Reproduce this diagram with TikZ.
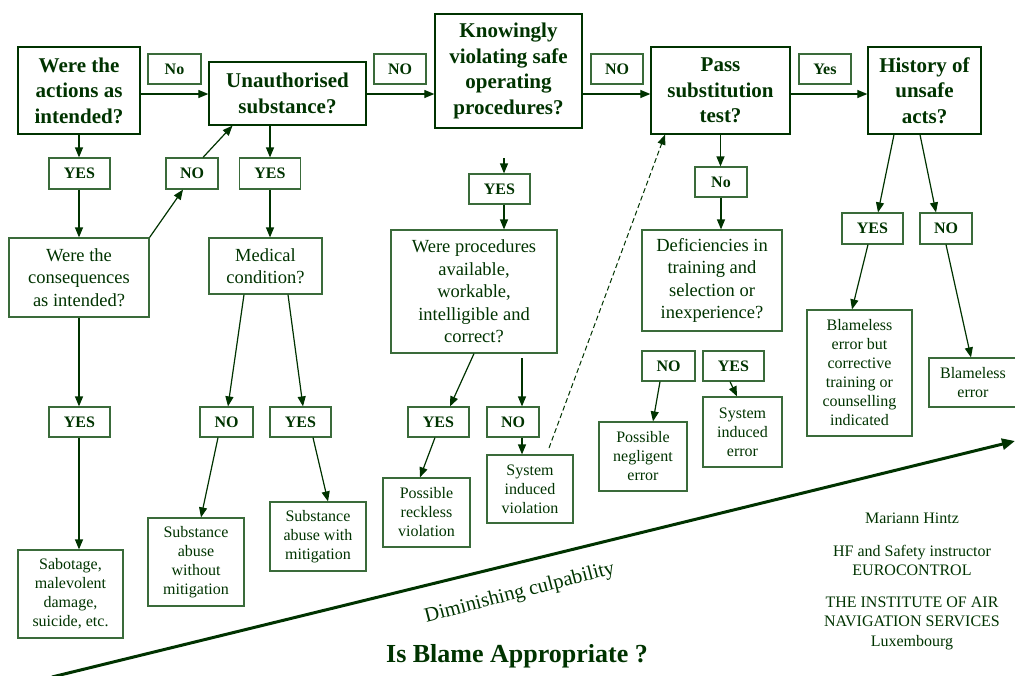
\documentclass[tikz,border=0pt]{standalone}
\usepackage{fontspec}
\setmainfont{Liberation Serif}
\usetikzlibrary{arrows.meta}
\definecolor{dgreen}{HTML}{003300}
\definecolor{mgreen}{HTML}{3A6B3A}
\tikzset{
  sz/.style n args={2}{minimum width=#1pt, minimum height=#2pt},
  qbox/.style={draw=dgreen, line width=1.3pt, text=dgreen, align=center, inner sep=0pt,
    font=\fontsize{21}{25.5}\selectfont\bfseries},
  tbox/.style={draw=mgreen, line width=1.2pt, text=dgreen, align=center, inner sep=0pt,
    font=\fontsize{18.5}{22.5}\selectfont},
  rbox/.style={draw=mgreen, line width=1.2pt, text=dgreen, align=center, inner sep=0pt,
    font=\fontsize{16}{19}\selectfont},
  lbox/.style={draw=mgreen, line width=1.2pt, text=dgreen, align=center, inner sep=0pt,
    font=\fontsize{16}{19}\selectfont\bfseries},
  arr/.style={draw=dgreen, line width=1.2pt, -{Triangle[length=10pt,width=8pt]}},
  plain/.style={text=dgreen, align=center, inner sep=0pt},
}
\begin{document}
\begin{tikzpicture}[x=1pt, y=-1pt]
\useasboundingbox (0,0) rectangle (1015,675);
% top row
\node[qbox, sz={122}{87}] (act) at (79,90.5) {Were the\\actions as\\intended?};
\node[lbox, sz={53}{30}] (lno1) at (174.5,69) {No};
\node[qbox, sz={157}{63}] (unauth) at (287.5,93.5) {Unauthorised\\substance?};
\node[lbox, sz={52}{30}] (lno2) at (400,69) {NO};
\node[qbox, sz={147}{114}] (know) at (508.5,71) {Knowingly\\violating safe\\operating\\procedures?};
\node[lbox, sz={52}{30}] (lno3) at (617,69) {NO};
\node[qbox, sz={139}{87}] (pass) at (720.5,90.5) {Pass\\substitution\\test?};
\node[lbox, sz={52}{30}] (lyes) at (825,69) {Yes};
\node[qbox, sz={113}{87}] (hist) at (924.5,90.5) {History of\\unsafe\\acts?};
\coordinate (row) at (0,94);
\draw[arr] (act.east |- row) -- (unauth.west |- row);
\draw[arr] (unauth.east |- row) -- (know.west |- row);
\draw[arr] (know.east |- row) -- (pass.west |- row);
\draw[arr] (pass.east |- row) -- (hist.west |- row);

% column 1
\node[lbox, sz={61}{31}] (yes1) at (79.5,173.5) {YES};
\node[tbox, sz={140}{79}] (cons) at (79,277.5) {Were the\\consequences\\as intended?};
\node[lbox, sz={61}{30}] (yes3) at (79.5,422) {YES};
\node[rbox, sz={105}{88}] (sab) at (70.5,594) {Sabotage,\\malevolent\\damage,\\suicide, etc.};
\draw[arr] (act.south) -- (act.south |- yes1.north);
\draw[arr] (act.south |- yes1.south) -- (act.south |- cons.north);
\draw[arr] (act.south |- cons.south) -- (act.south |- yes3.north);
\draw[arr] (act.south |- yes3.south) -- (act.south |- sab.north);

% column 2
\node[lbox, sz={52}{31}] (no1) at (192,173.5) {NO};
\node[lbox, sz={61}{31}] (yes2) at (270,173.5) {YES};
\node[tbox, sz={113}{56}] (med) at (265.5,266) {Medical\\condition?};
\node[lbox, sz={53}{30}] (mno) at (226.5,422) {NO};
\node[lbox, sz={61}{30}] (myes) at (300.5,422) {YES};
\node[rbox, sz={96}{88}] (sawo) at (196,562) {Substance\\abuse\\without\\mitigation};
\node[rbox, sz={96}{69}] (saw) at (318,536.5) {Substance\\abuse with\\mitigation};
\draw[arr] (cons.north east) -- ([xshift=-9pt]no1.south);
\draw[arr] ([xshift=11pt]no1.north) -- ([xshift=-55pt]unauth.south);
\draw[arr] (yes2.north |- unauth.south) -- (yes2.north);
\draw[arr] (yes2.south) -- (yes2.south |- med.north);
\draw[arr] ([xshift=-21.5pt]med.south) -- ([xshift=1.5pt]mno.north);
\draw[arr] ([xshift=22.5pt]med.south) -- ([xshift=2.5pt]myes.north);
\draw[arr] ([xshift=-8.5pt]mno.south) -- ([xshift=5pt]sawo.north);
\draw[arr] ([xshift=12.5pt]myes.south) -- ([xshift=10pt]saw.north);

% column 3
\coordinate (kstub) at (504,158);
\node[lbox, sz={61}{30}] (kyes) at (499.5,189) {YES};
\node[tbox, sz={166}{123}] (proc) at (474,291.5) {Were procedures\\available,\\workable,\\intelligible and\\correct?};
\node[lbox, sz={61}{30}] (pyes) at (438.5,422) {YES};
\node[lbox, sz={52}{30}] (pno) at (513,422) {NO};
\node[rbox, sz={87}{69}] (prv) at (426.5,512.5) {Possible\\reckless\\violation};
\node[rbox, sz={86}{68}] (siv) at (530,489) {System\\induced\\violation};
\coordinate (pnostub) at (522,358);
\coordinate (dstart) at (549,448);
\draw[arr] (kstub) -- (kstub |- kyes.north);
\draw[arr] (kstub |- kyes.south) -- (kstub |- proc.north);
\draw[arr] (proc.south) -- ([xshift=11.5pt]pyes.north);
\draw[arr] (pnostub) -- (pnostub |- pno.north);
\draw[arr] ([xshift=-3.5pt]pyes.south) -- ([xshift=-6.5pt]prv.north);
\draw[arr] (pnostub |- pno.south) -- (pnostub |- siv.north);
\draw[arr, dash pattern=on 5pt off 3pt, line width=1pt] (dstart) -- ([xshift=-55.5pt]pass.south);

% column 4
\node[lbox, sz={52}{30}] (pno2) at (721,182) {No};
\node[tbox, sz={140}{101}] (def) at (712,280.5) {Deficiencies in\\training and\\selection or\\inexperience?};
\node[lbox, sz={53}{30}] (dno) at (668.5,366) {NO};
\node[lbox, sz={61}{30}] (dyes) at (733.5,366) {YES};
\node[rbox, sz={88}{69}] (pne) at (643,456.5) {Possible\\negligent\\error};
\node[rbox, sz={79}{70}] (sie) at (742.5,432) {System\\induced\\error};
\draw[arr] (pass.south) -- (pass.south |- pno2.north);
\draw[arr] (pno2.south) -- (pno2.south |- def.north);
\draw[arr] ([xshift=-8.5pt]dno.south) -- ([xshift=10pt]pne.north);
\draw[arr] ([xshift=-3.5pt]dyes.south) -- ([xshift=-5.5pt]sie.north);

% column 5
\node[lbox, sz={61}{31}] (hyes) at (872.5,228.5) {YES};
\node[lbox, sz={52}{31}] (hno) at (946,228.5) {NO};
\node[rbox, sz={105}{126}] (beb) at (859.5,373) {Blameless\\error but\\corrective\\training or\\counselling\\indicated};
\node[rbox, sz={88}{49}] (be) at (973,382.5) {Blameless\\error};
\draw[arr] ([xshift=-30.5pt]hist.south) -- ([xshift=5.5pt]hyes.north);
\draw[arr] ([xshift=-4.5pt]hist.south) -- ([xshift=-10pt]hno.north);
\draw[arr] ([xshift=-4.5pt]hyes.south) -- ([xshift=-7.5pt]beb.north);
\draw[arr] (hno.south) -- ([xshift=-2pt]be.north);

% culpability arrow
\coordinate (cs) at (52,677);
\coordinate (ce) at (1015,441);
\draw[draw=dgreen, fill=dgreen, line width=3pt, -{Triangle[length=13pt,width=11pt]}] (cs) -- (ce);
\node[plain, anchor=base, rotate=14.5, font=\fontsize{20.5}{24}\selectfont] (dim) at (521,598) {Diminishing culpability};
\node[plain, anchor=base, font=\fontsize{26}{30}\selectfont\bfseries] (blame) at (517,662) {Is Blame Appropriate ?};

% credits
\node[plain, anchor=base, font=\fontsize{16}{19}\selectfont] (cred1) at (912,523) {Mariann Hintz};
\node[plain, anchor=base, font=\fontsize{16}{18.5}\selectfont] (cred2) at (912,575) {HF and Safety instructor\\EUROCONTROL};
\node[plain, anchor=base, font=\fontsize{16}{19.5}\selectfont] (cred3) at (912,646) {THE INSTITUTE OF AIR\\NAVIGATION SERVICES\\Luxembourg};
\end{tikzpicture}
\end{document}
